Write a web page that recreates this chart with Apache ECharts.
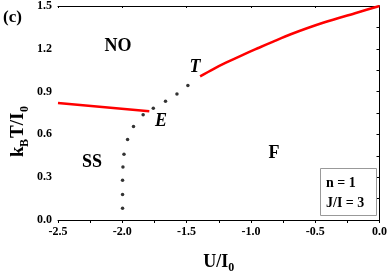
<!DOCTYPE html>
<html><head><meta charset="utf-8">
<script src="https://cdn.jsdelivr.net/npm/echarts@6/dist/echarts.min.js"></script>
<style>html,body{margin:0;padding:0;background:#fff}#c{width:390px;height:279px}</style>
</head><body><div id="c"></div>
<script>
// Data
const xTicks = [-2.5, -2.0, -1.5, -1.0, -0.5, 0.0];
const yTicks = [0.0, 0.3, 0.6, 0.9, 1.2, 1.5];
// SS-NO boundary (red, left)
const ssNoU = [-2.5, -1.79];
const ssNoT = [0.82, 0.763];
// NO-F boundary (red, right)
const noFU = [-1.395, -1.292, -1.190, -1.062, -0.933, -0.831, -0.690, -0.433, -0.177, 0.0];
const noFT = [1.007, 1.058, 1.104, 1.158, 1.209, 1.249, 1.302, 1.384, 1.453, 1.5];
// Dotted boundary
const dotU = [-1.998, -1.998, -1.998, -1.995, -1.987, -1.959, -1.913, -1.838, -1.759, -1.664, -1.575, -1.490];
const dotT = [0.082, 0.179, 0.279, 0.372, 0.460, 0.565, 0.656, 0.737, 0.783, 0.832, 0.884, 0.942];

const zip = (a, b) => a.map((v, i) => [v, b[i]]);
const FONT = '"Liberation Serif", "Times New Roman", serif';
const chart = echarts.init(document.getElementById('c'));
const lbl = v => v.toFixed(1);
const nameRich = {
  m: { fontFamily: FONT, fontWeight: 'bold', fontSize: 18, color: '#000' },
  s: { fontFamily: FONT, fontWeight: 'bold', fontSize: 12, color: '#000', padding: [11, 0, 0, 0] }
};
const yName = (text, lx, ly, size) => ({ type: 'text', x: lx, y: ly,
  style: { text: text, font: 'bold ' + size + 'px ' + FONT, fill: '#000', align: 'left', verticalAlign: 'middle' } });
chart.setOption({
  animation: false,
  grid: { left: 58, right: 7, top: 5, bottom: 59 },
  xAxis: [{
    type: 'value', min: xTicks[0], max: xTicks[xTicks.length-1], interval: 0.5,
    axisLine: { lineStyle: { color: '#000', width: 1 } },
    axisTick: { show: true, length: 3, lineStyle: { color: '#000' } },
    minorTick: { show: true, splitNumber: 2, length: 3, lineStyle: { color: '#000' } },
    splitLine: { show: false },
    axisLabel: { formatter: lbl, fontFamily: FONT, fontWeight: 'bold', fontSize: 12, color: '#000', margin: 6 },
    name: '{m|U/I}{s|0}', nameLocation: 'middle', nameGap: 31,
    nameTextStyle: { rich: nameRich }
  }, {
    type: 'value', position: 'top', min: xTicks[0], max: xTicks[xTicks.length-1], interval: 0.5,
    axisLine: { show: true, onZero: false, lineStyle: { color: '#000', width: 1 } },
    axisTick: { show: true, inside: true, length: 2, lineStyle: { color: '#000' } },
    axisLabel: { show: false }, splitLine: { show: false }
  }],
  yAxis: [{
    type: 'value', min: yTicks[0], max: yTicks[yTicks.length-1], interval: 0.3,
    axisLine: { show: true, lineStyle: { color: '#000', width: 1 } },
    axisTick: { show: true, length: 3, lineStyle: { color: '#000' } },
    minorTick: { show: true, splitNumber: 2, length: 3, lineStyle: { color: '#000' } },
    splitLine: { show: false },
    axisLabel: { formatter: lbl, fontFamily: FONT, fontWeight: 'bold', fontSize: 12, color: '#000', margin: 6 }
  }, {
    type: 'value', position: 'right', min: yTicks[0], max: yTicks[yTicks.length-1], interval: 0.3,
    axisLine: { show: true, onZero: false, lineStyle: { color: '#000', width: 1 } },
    axisTick: { show: true, inside: true, length: 2, lineStyle: { color: '#000' } },
    axisLabel: { show: false }, splitLine: { show: false }
  }],
  series: [
    { type: 'line', data: zip(ssNoU, ssNoT), showSymbol: false, lineStyle: { color: '#ff0000', width: 2.5 }, z: 3 },
    { type: 'line', data: zip(noFU, noFT), smooth: 0.3, showSymbol: false, lineStyle: { color: '#ff0000', width: 2.5 }, z: 3 },
    { type: 'scatter', data: zip(dotU, dotT), symbol: 'circle', symbolSize: 3.5, itemStyle: { color: '#000' }, z: 4 }
  ],
  graphic: [
    { type: 'text', left: 3, top: 9, style: { text: '(c)', font: 'bold 17px ' + FONT, fill: '#000' } },
    { type: 'text', x: 118, y: 46, style: { text: 'NO', font: 'bold 18px ' + FONT, fill: '#000', align: 'center', verticalAlign: 'middle' } },
    { type: 'text', x: 92, y: 162, style: { text: 'SS', font: 'bold 18px ' + FONT, fill: '#000', align: 'center', verticalAlign: 'middle' } },
    { type: 'text', x: 274, y: 153, style: { text: 'F', font: 'bold 18px ' + FONT, fill: '#000', align: 'center', verticalAlign: 'middle' } },
    { type: 'text', x: 195, y: 67, style: { text: 'T', font: 'italic bold 18px ' + FONT, fill: '#000', align: 'center', verticalAlign: 'middle' } },
    { type: 'text', x: 161, y: 121, style: { text: 'E', font: 'italic bold 18px ' + FONT, fill: '#000', align: 'center', verticalAlign: 'middle' } },
    { type: 'rect', shape: { x: 320.5, y: 168.5, width: 56, height: 47 }, style: { fill: '#fff', stroke: '#999', lineWidth: 1 }, z: 10 },
    { type: 'text', x: 326, y: 183, z: 11, style: { text: 'n = 1', font: 'bold 14px ' + FONT, fill: '#000', verticalAlign: 'middle' } },
    { type: 'text', x: 326, y: 203, z: 11, style: { text: 'J/I = 3', font: 'bold 14px ' + FONT, fill: '#000', verticalAlign: 'middle' } },
    { type: 'group', x: 18, y: 157, rotation: Math.PI / 2, children: [
      yName('k', 0, 0, 19),
      yName('B', 10, 7, 12),
      yName('T/I', 19, 0, 19),
      yName('0', 45, 7, 12)
    ] }
  ]
});
</script></body></html>
